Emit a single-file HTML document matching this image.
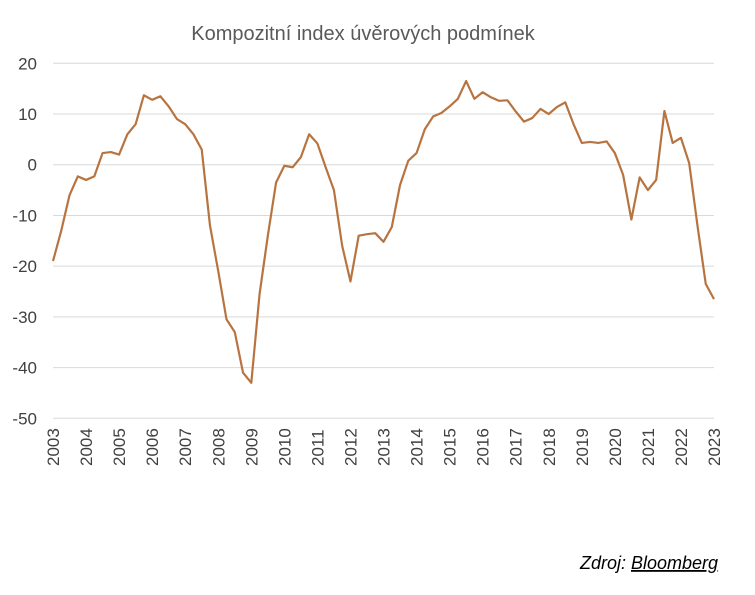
<!DOCTYPE html>
<html><head><meta charset="utf-8"><style>
body{margin:0;background:#fff;width:755px;height:590px;overflow:hidden;font-family:"Liberation Sans",sans-serif}
</style></head><body>
<svg id="chart" width="755" height="590" xmlns="http://www.w3.org/2000/svg">
<text x="363" y="40" text-anchor="middle" font-size="20" fill="#595959" font-family="Liberation Sans, sans-serif">Kompozitní index úvěrových podmínek</text>
<g id="grid"></g><g id="yticks"></g><g id="xticks"></g>
<polyline id="line" fill="none" stroke="#B87440" stroke-width="2.2" stroke-linejoin="round"/>
<text x="580" y="569" font-size="18" font-style="italic" fill="#000" font-family="Liberation Sans, sans-serif">Zdroj: <tspan text-decoration="underline">Bloomberg</tspan></text>
</svg>
<script>
const years=["2003","2004","2005","2006","2007","2008","2009","2010","2011","2012","2013","2014","2015","2016","2017","2018","2019","2020","2021","2022","2023"];
const yTicks=[20,10,0,-10,-20,-30,-40,-50];
const values=[-19,-13,-6,-2.3,-3,-2.3,2.3,2.5,2,6,8,13.7,12.8,13.5,11.5,9,8,6,3,-12,-21,-30.5,-33,-41,-43,-25.5,-14,-3.5,-0.2,-0.5,1.5,6,4.2,-0.5,-5,-16,-23,-14,-13.7,-13.5,-15.2,-12.3,-4,0.8,2.3,7,9.5,10.2,11.5,13,16.5,13,14.3,13.3,12.6,12.7,10.5,8.5,9.2,11,10,11.4,12.3,8,4.3,4.5,4.3,4.6,2.3,-2,-10.8,-2.5,-5,-3,10.6,4.3,5.3,0.3,-12,-23.5,-26.5];
const NS="http://www.w3.org/2000/svg";
const x0=53,x1=714,yTop=63.3,yBot=418.3,vMax=20,vMin=-50;
const yScale=v=>yTop+(vMax-v)/(vMax-vMin)*(yBot-yTop);
const xScale=i=>x0+i/(values.length-1)*(x1-x0);
const grid=document.getElementById('grid'),yt=document.getElementById('yticks'),xt=document.getElementById('xticks');
yTicks.forEach(v=>{
 const l=document.createElementNS(NS,'line');
 
 
 l.setAttribute('x1',x0);l.setAttribute('x2',x1);l.setAttribute('y1',yScale(v));l.setAttribute('y2',yScale(v));
 l.setAttribute('stroke','#d9d9d9');l.setAttribute('stroke-width','1');grid.appendChild(l);
 const t=document.createElementNS(NS,'text');
 
 
 t.setAttribute('x',37);t.setAttribute('y',yScale(v)+6);t.setAttribute('text-anchor','end');
 t.setAttribute('font-size','17');t.setAttribute('fill','#404040');t.textContent=v;yt.appendChild(t);
});
years.forEach((y,k)=>{
 const x=xScale(k*4);
 const t=document.createElementNS(NS,'text');
 
 
 t.setAttribute('transform','translate('+(x+6)+',466) rotate(-90)');
 t.setAttribute('font-size','17');t.setAttribute('fill','#404040');t.textContent=y;xt.appendChild(t);
});
document.getElementById('line').setAttribute('points',values.map((v,i)=>xScale(i)+','+yScale(v)).join(' '));
</script>
</body></html>
